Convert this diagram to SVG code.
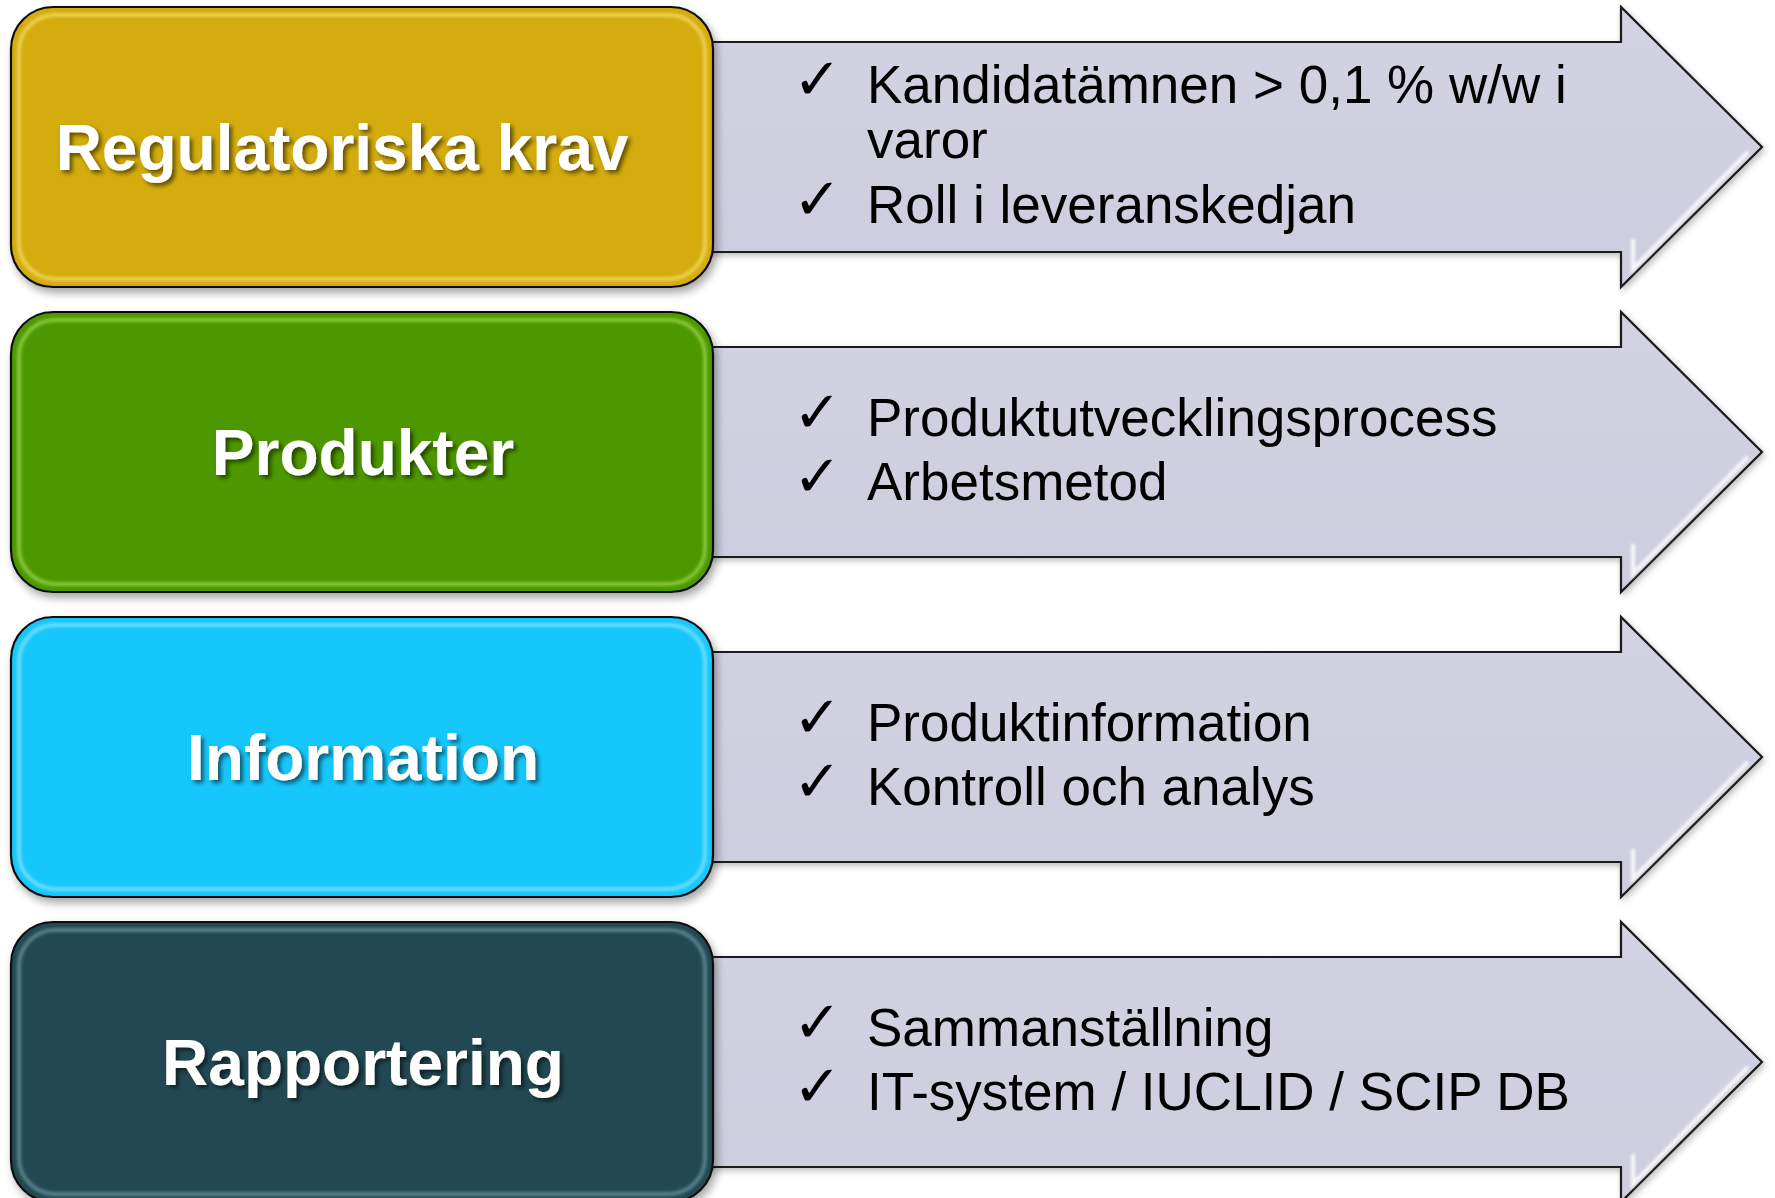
<svg xmlns="http://www.w3.org/2000/svg" width="1775" height="1198" viewBox="0 0 1775 1198">
  <defs>
    <filter id="boxShadow" x="-5%" y="-5%" width="115%" height="120%">
      <feDropShadow dx="3" dy="5" stdDeviation="4" flood-color="#000" flood-opacity="0.35"/>
    </filter>
    <filter id="arrowShadow" x="-5%" y="-10%" width="115%" height="130%">
      <feDropShadow dx="2" dy="3" stdDeviation="3" flood-color="#000" flood-opacity="0.25"/>
    </filter>
    <filter id="textShadow" x="-10%" y="-30%" width="120%" height="170%">
      <feDropShadow dx="3" dy="3" stdDeviation="2" flood-color="#000" flood-opacity="0.55"/>
    </filter>
    <filter id="soft" x="-10%" y="-10%" width="120%" height="120%">
      <feGaussianBlur stdDeviation="1.5"/>
    </filter>
    <linearGradient id="arrowFill" x1="0" y1="0" x2="0" y2="1">
      <stop offset="0" stop-color="#d2d2e2"/>
      <stop offset="1" stop-color="#cdcddf"/>
    </linearGradient>
  </defs>
  <style>
    .arrow { fill: url(#arrowFill); stroke: #1a1a1a; stroke-width: 2.2; stroke-linejoin: miter; filter: url(#arrowShadow); }
    .hl { fill: none; stroke: #ffffff; stroke-width: 4; stroke-opacity: 0.85; filter: url(#soft); }
    .box { stroke: #111; stroke-width: 2.2; filter: url(#boxShadow); }
    .inner { fill: none; stroke-width: 4; stroke-opacity: 0.7; filter: url(#soft); }
    .title { font-family: "Liberation Sans", Arial, sans-serif; font-weight: bold; font-size: 64px; fill: #ffffff; text-anchor: middle; filter: url(#textShadow); }
    .item { font-family: "Liberation Sans", Arial, sans-serif; font-size: 53px; fill: #000000; }
    .check { font-family: "DejaVu Sans", sans-serif; font-size: 58px; fill: #000000; }
  </style>

  <g id="connectors">
    <g id="arrow1">
      <polygon class="arrow" points="690,42 1621,42 1621,7 1762,147 1621,287 1621,252 690,252"/>
      <polyline class="hl" points="1633,239 1633,269 1748,152"/>
      <line class="hl" x1="1633" y1="24" x2="1633" y2="54"/>
      <line class="hl" x1="721" y1="50" x2="721" y2="244" stroke-opacity="0.6"/>
    </g>
    <g id="arrow2">
      <polygon class="arrow" points="690,347 1621,347 1621,312 1762,452 1621,592 1621,557 690,557"/>
      <polyline class="hl" points="1633,544 1633,574 1748,457"/>
      <line class="hl" x1="1633" y1="329" x2="1633" y2="359"/>
      <line class="hl" x1="721" y1="355" x2="721" y2="549" stroke-opacity="0.6"/>
    </g>
    <g id="arrow3">
      <polygon class="arrow" points="690,652 1621,652 1621,617 1762,757 1621,897 1621,862 690,862"/>
      <polyline class="hl" points="1633,849 1633,879 1748,762"/>
      <line class="hl" x1="1633" y1="634" x2="1633" y2="664"/>
      <line class="hl" x1="721" y1="660" x2="721" y2="854" stroke-opacity="0.6"/>
    </g>
    <g id="arrow4">
      <polygon class="arrow" points="690,957 1621,957 1621,922 1762,1062 1621,1202 1621,1167 690,1167"/>
      <polyline class="hl" points="1633,1154 1633,1184 1748,1067"/>
      <line class="hl" x1="1633" y1="939" x2="1633" y2="969"/>
      <line class="hl" x1="721" y1="965" x2="721" y2="1159" stroke-opacity="0.6"/>
    </g>
  </g>

  <g id="list1">
    <text class="check" x="793" y="99">✓</text>
    <text class="item" x="867" y="103">Kandidatämnen &gt; 0,1 % w/w i</text>
    <text class="item" x="867" y="158">varor</text>
    <text class="check" x="793" y="219">✓</text>
    <text class="item" x="867" y="223">Roll i leveranskedjan</text>
  </g>
  <g id="list2">
    <text class="check" x="793" y="432">✓</text>
    <text class="item" x="867" y="436">Produktutvecklingsprocess</text>
    <text class="check" x="793" y="496">✓</text>
    <text class="item" x="867" y="500">Arbetsmetod</text>
  </g>
  <g id="list3">
    <text class="check" x="793" y="737">✓</text>
    <text class="item" x="867" y="741">Produktinformation</text>
    <text class="check" x="793" y="801">✓</text>
    <text class="item" x="867" y="805">Kontroll och analys</text>
  </g>
  <g id="list4">
    <text class="check" x="793" y="1042">✓</text>
    <text class="item" x="867" y="1046">Sammanställning</text>
    <text class="check" x="793" y="1106">✓</text>
    <text class="item" x="867" y="1110">IT-system / IUCLID / SCIP DB</text>
  </g>

  <g id="node-regulatoriska">
    <rect class="box" x="11" y="7" width="702" height="280" rx="42" ry="42" fill="#d4ac07"/>
    <rect class="inner" x="19" y="15" width="686" height="264" rx="36" ry="36" stroke="#f7e070"/>
    <text class="title" x="342" y="170">Regulatoriska krav</text>
  </g>
  <g id="node-produkter">
    <rect class="box" x="11" y="312" width="702" height="280" rx="42" ry="42" fill="#4d9800"/>
    <rect class="inner" x="19" y="320" width="686" height="264" rx="36" ry="36" stroke="#9fdc55"/>
    <text class="title" x="363" y="475">Produkter</text>
  </g>
  <g id="node-information">
    <rect class="box" x="11" y="617" width="702" height="280" rx="42" ry="42" fill="#18c7fb"/>
    <rect class="inner" x="19" y="625" width="686" height="264" rx="36" ry="36" stroke="#8fe6ff"/>
    <text class="title" x="363" y="780">Information</text>
  </g>
  <g id="node-rapportering">
    <rect class="box" x="11" y="922" width="702" height="280" rx="42" ry="42" fill="#234a52"/>
    <rect class="inner" x="19" y="930" width="686" height="264" rx="36" ry="36" stroke="#6f9aa2"/>
    <text class="title" x="363" y="1085">Rapportering</text>
  </g>
</svg>
